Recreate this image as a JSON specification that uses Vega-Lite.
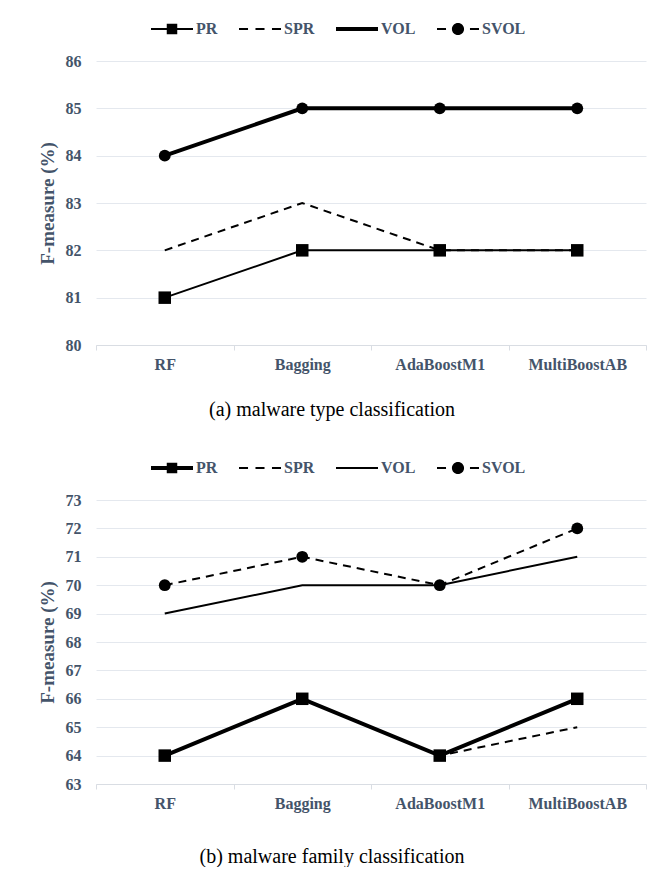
{
  "$schema": "https://vega.github.io/schema/vega-lite/v6.json",
  "autosize": {"type": "pad"},
  "padding": {"left": 38, "top": 8, "right": 16, "bottom": 0},
  "background": "white",
  "spacing": 27,
  "data": {
    "values": [
      {"panel": "a", "series": "PR", "algo": "RF", "value": 81},
      {"panel": "a", "series": "PR", "algo": "Bagging", "value": 82},
      {"panel": "a", "series": "PR", "algo": "AdaBoostM1", "value": 82},
      {"panel": "a", "series": "PR", "algo": "MultiBoostAB", "value": 82},
      {"panel": "a", "series": "SPR", "algo": "RF", "value": 82},
      {"panel": "a", "series": "SPR", "algo": "Bagging", "value": 83},
      {"panel": "a", "series": "SPR", "algo": "AdaBoostM1", "value": 82},
      {"panel": "a", "series": "SPR", "algo": "MultiBoostAB", "value": 82},
      {"panel": "a", "series": "VOL", "algo": "RF", "value": 84},
      {"panel": "a", "series": "VOL", "algo": "Bagging", "value": 85},
      {"panel": "a", "series": "VOL", "algo": "AdaBoostM1", "value": 85},
      {"panel": "a", "series": "VOL", "algo": "MultiBoostAB", "value": 85},
      {"panel": "a", "series": "SVOL", "algo": "RF", "value": 84},
      {"panel": "a", "series": "SVOL", "algo": "Bagging", "value": 85},
      {"panel": "a", "series": "SVOL", "algo": "AdaBoostM1", "value": 85},
      {"panel": "a", "series": "SVOL", "algo": "MultiBoostAB", "value": 85},
      {"panel": "b", "series": "PR", "algo": "RF", "value": 64},
      {"panel": "b", "series": "PR", "algo": "Bagging", "value": 66},
      {"panel": "b", "series": "PR", "algo": "AdaBoostM1", "value": 64},
      {"panel": "b", "series": "PR", "algo": "MultiBoostAB", "value": 66},
      {"panel": "b", "series": "SPR", "algo": "RF", "value": 64},
      {"panel": "b", "series": "SPR", "algo": "Bagging", "value": 66},
      {"panel": "b", "series": "SPR", "algo": "AdaBoostM1", "value": 64},
      {"panel": "b", "series": "SPR", "algo": "MultiBoostAB", "value": 65},
      {"panel": "b", "series": "VOL", "algo": "RF", "value": 69},
      {"panel": "b", "series": "VOL", "algo": "Bagging", "value": 70},
      {"panel": "b", "series": "VOL", "algo": "AdaBoostM1", "value": 70},
      {"panel": "b", "series": "VOL", "algo": "MultiBoostAB", "value": 71},
      {"panel": "b", "series": "SVOL", "algo": "RF", "value": 70},
      {"panel": "b", "series": "SVOL", "algo": "Bagging", "value": 71},
      {"panel": "b", "series": "SVOL", "algo": "AdaBoostM1", "value": 70},
      {"panel": "b", "series": "SVOL", "algo": "MultiBoostAB", "value": 72}
    ]
  },
  "resolve": {
    "scale": {"x": "independent", "y": "independent", "shape": "independent"},
    "legend": {"shape": "independent"}
  },
  "vconcat": [
    {
      "width": 550,
      "height": 284,
      "transform": [{"filter": "datum.panel == 'a'"}],
      "title": {"text": "(a) malware type classification", "orient": "bottom", "anchor": "middle", "frame": "group", "dx": -39, "offset": 28, "font": "Liberation Serif, Times New Roman, serif", "fontSize": 20, "fontWeight": "normal", "color": "black"},
      "encoding": {
        "x": {"field": "algo", "type": "nominal", "title": null, "bandPosition": 0.5,
          "scale": {"type": "band", "domain": ["RF", "Bagging", "AdaBoostM1", "MultiBoostAB"], "paddingInner": 0, "paddingOuter": 0}},
        "y": {"field": "value", "type": "quantitative", "title": "F-measure (%)",
          "scale": {"domain": [80, 86], "nice": false, "zero": false},
          "axis": {"values": [80, 81, 82, 83, 84, 85, 86]}}
      },
      "layer": [
        {"transform": [{"filter": "datum.series == 'PR'"}], "mark": {"type": "line", "color": "black", "strokeWidth": 2}},
        {"transform": [{"filter": "datum.series == 'SPR'"}], "mark": {"type": "line", "color": "black", "strokeWidth": 2, "strokeDash": [8, 6]}},
        {"transform": [{"filter": "datum.series == 'VOL'"}], "mark": {"type": "line", "color": "black", "strokeWidth": 4}},
        {"transform": [{"filter": "datum.series == 'SVOL'"}], "mark": {"type": "line", "color": "black", "strokeWidth": 2, "strokeDash": [8, 6]}},
        {"transform": [{"filter": "datum.series == 'PR'"}], "mark": {"type": "point", "shape": "square", "filled": true, "opacity": 1, "color": "black", "size": 156}},
        {"transform": [{"filter": "datum.series == 'SVOL'"}], "mark": {"type": "point", "shape": "circle", "filled": true, "opacity": 1, "color": "black", "size": 140}},
        {
          "transform": [{"filter": "datum.series == 'none'"}],
          "mark": {"type": "point", "filled": true, "opacity": 1, "color": "black"},
          "encoding": {
            "shape": {"field": "series", "type": "nominal",
              "scale": {"domain": ["PR", "SPR", "VOL", "SVOL"],
                "range": [
                  "M-1,-0.05H1V0.05H-1Z M-0.25,-0.25H0.25V0.25H-0.25Z",
                  "M-1,-0.05H-0.57V0.05H-1Z M-0.215,-0.05H0.215V0.05H-0.215Z M0.57,-0.05H1V0.05H0.57Z",
                  "M-1,-0.09H1V0.09H-1Z",
                  "M-1,-0.05H-0.57V0.05H-1Z M0.57,-0.05H1V0.05H0.57Z M-0.29,0A0.29,0.29 0 1,0 0.29,0A0.29,0.29 0 1,0 -0.29,0Z"
                ]},
              "legend": {"orient": "none", "legendX": 55, "legendY": -53, "direction": "horizontal", "title": null}}
          }
        }
      ]
    },
    {
      "width": 550,
      "height": 284,
      "transform": [{"filter": "datum.panel == 'b'"}],
      "title": {"text": "(b) malware family classification", "orient": "bottom", "anchor": "middle", "frame": "group", "dx": -39, "offset": 36, "font": "Liberation Serif, Times New Roman, serif", "fontSize": 20, "fontWeight": "normal", "color": "black"},
      "encoding": {
        "x": {"field": "algo", "type": "nominal", "title": null, "bandPosition": 0.5,
          "scale": {"type": "band", "domain": ["RF", "Bagging", "AdaBoostM1", "MultiBoostAB"], "paddingInner": 0, "paddingOuter": 0}},
        "y": {"field": "value", "type": "quantitative", "title": "F-measure (%)",
          "scale": {"domain": [63, 73], "nice": false, "zero": false},
          "axis": {"values": [63, 64, 65, 66, 67, 68, 69, 70, 71, 72, 73]}}
      },
      "layer": [
        {"transform": [{"filter": "datum.series == 'VOL'"}], "mark": {"type": "line", "color": "black", "strokeWidth": 2}},
        {"transform": [{"filter": "datum.series == 'SVOL'"}], "mark": {"type": "line", "color": "black", "strokeWidth": 2, "strokeDash": [8, 6]}},
        {"transform": [{"filter": "datum.series == 'SPR'"}], "mark": {"type": "line", "color": "black", "strokeWidth": 2, "strokeDash": [8, 6]}},
        {"transform": [{"filter": "datum.series == 'PR'"}], "mark": {"type": "line", "color": "black", "strokeWidth": 4}},
        {"transform": [{"filter": "datum.series == 'PR'"}], "mark": {"type": "point", "shape": "square", "filled": true, "opacity": 1, "color": "black", "size": 156}},
        {"transform": [{"filter": "datum.series == 'SVOL'"}], "mark": {"type": "point", "shape": "circle", "filled": true, "opacity": 1, "color": "black", "size": 140}},
        {
          "transform": [{"filter": "datum.series == 'none'"}],
          "mark": {"type": "point", "filled": true, "opacity": 1, "color": "black"},
          "encoding": {
            "shape": {"field": "series", "type": "nominal",
              "scale": {"domain": ["PR", "SPR", "VOL", "SVOL"],
                "range": [
                  "M-1,-0.09H1V0.09H-1Z M-0.25,-0.25H0.25V0.25H-0.25Z",
                  "M-1,-0.05H-0.57V0.05H-1Z M-0.215,-0.05H0.215V0.05H-0.215Z M0.57,-0.05H1V0.05H0.57Z",
                  "M-1,-0.05H1V0.05H-1Z",
                  "M-1,-0.05H-0.57V0.05H-1Z M0.57,-0.05H1V0.05H0.57Z M-0.29,0A0.29,0.29 0 1,0 0.29,0A0.29,0.29 0 1,0 -0.29,0Z"
                ]},
              "legend": {"orient": "none", "legendX": 55, "legendY": -53, "direction": "horizontal", "title": null}}
          }
        }
      ]
    }
  ],
  "config": {
    "view": {"stroke": null},
    "font": "Liberation Serif, Times New Roman, serif",
    "axisX": {
      "domainColor": "#D9DDE3", "tickColor": "#D9DDE3", "tickSize": 5, "tickBand": "extent",
      "labelPadding": 6, "labelFont": "Liberation Serif, Times New Roman, serif", "labelFontSize": 16, "labelFontWeight": "bold",
      "labelColor": "#44546A", "labelAngle": 0, "grid": false
    },
    "axisY": {
      "domain": false, "ticks": false, "tickSize": 0, "labelPadding": 15,
      "grid": true, "gridColor": "#E4E8EE", "gridWidth": 1,
      "labelFont": "Liberation Serif, Times New Roman, serif", "labelFontSize": 16, "labelFontWeight": "bold", "labelColor": "#44546A",
      "titleFont": "Liberation Serif, Times New Roman, serif", "titleFontSize": 19, "titleFontWeight": "bold", "titleColor": "#44546A", "titlePadding": 8
    },
    "legend": {
      "symbolSize": 1764, "symbolFillColor": "black", "symbolStrokeWidth": 0, "symbolStrokeColor": "transparent", "symbolOpacity": 1,
      "labelFont": "Liberation Serif, Times New Roman, serif", "labelFontSize": 16, "labelFontWeight": "bold", "labelColor": "#44546A",
      "labelOffset": 3, "columnPadding": 21, "padding": 0, "rowPadding": 0
    }
  }
}
